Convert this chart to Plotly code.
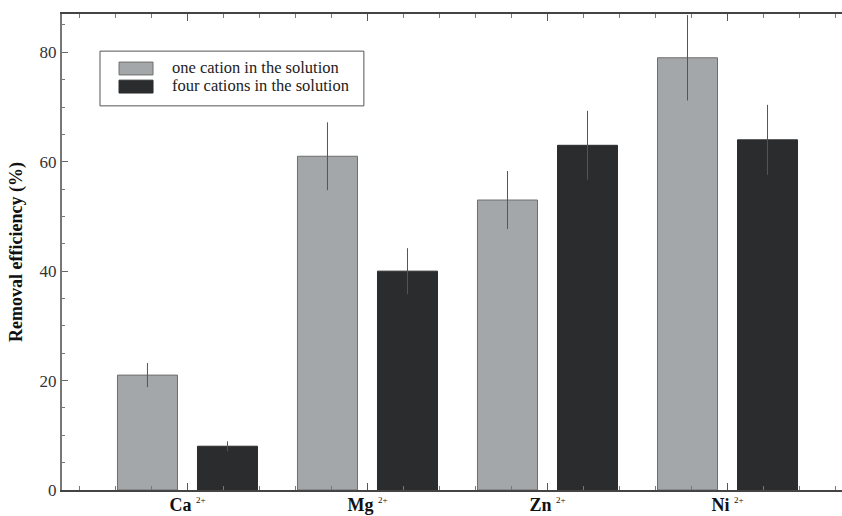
import plotly.graph_objects as go

categories = ["Ca", "Mg", "Zn", "Ni"]
one_cation = [21, 61, 53, 79]
one_cation_err = [2.2, 6.2, 5.3, 7.8]
four_cations = [8, 40, 63, 64]
four_cations_err = [0.9, 4.2, 6.3, 6.4]
series_names = ["one cation in the solution", "four cations in the solution"]

FONT = "Liberation Serif, Times New Roman, Tinos, DejaVu Serif, serif"
GRAY = "#a4a7a9"
BLACK = "#2b2c2d"

x = list(range(len(categories)))
tick_text = [f"<b>{c}</b> <sup><span style='font-size:9px'>2+</span></sup>" for c in categories]

fig = go.Figure()
fig.add_trace(go.Bar(
    x=x, y=one_cation, name=series_names[0],
    marker=dict(color=GRAY, line=dict(color="#6e6e6e", width=1)),
    error_y=dict(type="data", array=one_cation_err, color="#555555", thickness=1, width=0),
    showlegend=False,
))
fig.add_trace(go.Bar(
    x=x, y=four_cations, name=series_names[1],
    marker=dict(color=BLACK, line=dict(color="#2b2c2d", width=1)),
    error_y=dict(type="data", array=four_cations_err, color="#555555", thickness=1, width=0),
    showlegend=False,
))

# Custom legend: box and swatches in paper coordinates, labels as a text trace
shapes = [
    dict(type="rect", xref="paper", yref="paper", x0=0.0487, x1=0.387, y0=0.807, y1=0.922,
         line=dict(color="#555555", width=1), fillcolor="white", layer="below"),
    dict(type="rect", xref="paper", yref="paper", x0=0.0731, x1=0.1167, y0=0.872, y1=0.899,
         line=dict(color="#6e6e6e", width=1), fillcolor=GRAY, layer="above"),
    dict(type="rect", xref="paper", yref="paper", x0=0.0731, x1=0.1167, y0=0.834, y1=0.861,
         line=dict(color=BLACK, width=1), fillcolor=BLACK, layer="above"),
]
fig.add_trace(go.Scatter(
    x=[-0.086, -0.086], y=[77.0, 73.7], mode="text", text=series_names,
    textposition="middle right", textfont=dict(family=FONT, size=16.5, color="#222"),
    hoverinfo="skip", showlegend=False,
))

fig.update_layout(
    width=842, height=516,
    margin=dict(l=62, r=0, t=14, b=26),
    paper_bgcolor="white", plot_bgcolor="white",
    barmode="group", bargap=0.111, bargroupgap=0.25,
    font=dict(family=FONT, size=15, color="#222"),
    shapes=shapes,
    showlegend=False,
)
fig.update_xaxes(
    range=[-0.697, 3.636], automargin=False,
    tickmode="array", tickvals=x, ticktext=tick_text,
    tickfont=dict(family=FONT, size=18, color="#111"),
    ticklabelstandoff=-3,
    ticks="inside", ticklen=7, tickcolor="#555", tickwidth=1,
    minor=dict(tick0=0, dtick=0.2, ticks="inside", ticklen=4, tickcolor="#777", tickwidth=1),
    showline=True, linecolor="#444", linewidth=2, mirror="ticks",
    showgrid=False, zeroline=False, layer="above traces",
)
fig.update_yaxes(
    range=[0, 87], automargin=False,
    tickmode="linear", tick0=0, dtick=20,
    tickfont=dict(family=FONT, size=17, color="#333"),
    ticks="inside", ticklen=6, tickcolor="#666", tickwidth=1,
    minor=dict(tick0=0, dtick=5, ticks="inside", ticklen=3, tickcolor="#777", tickwidth=1),
    showline=True, linecolor="#777", linewidth=2,
    showgrid=False, zeroline=False,
    title=dict(text="<b>Removal efficiency (%)</b>", font=dict(family=FONT, size=18, color="#111"), standoff=12),
)

fig.write_html("out.html")
